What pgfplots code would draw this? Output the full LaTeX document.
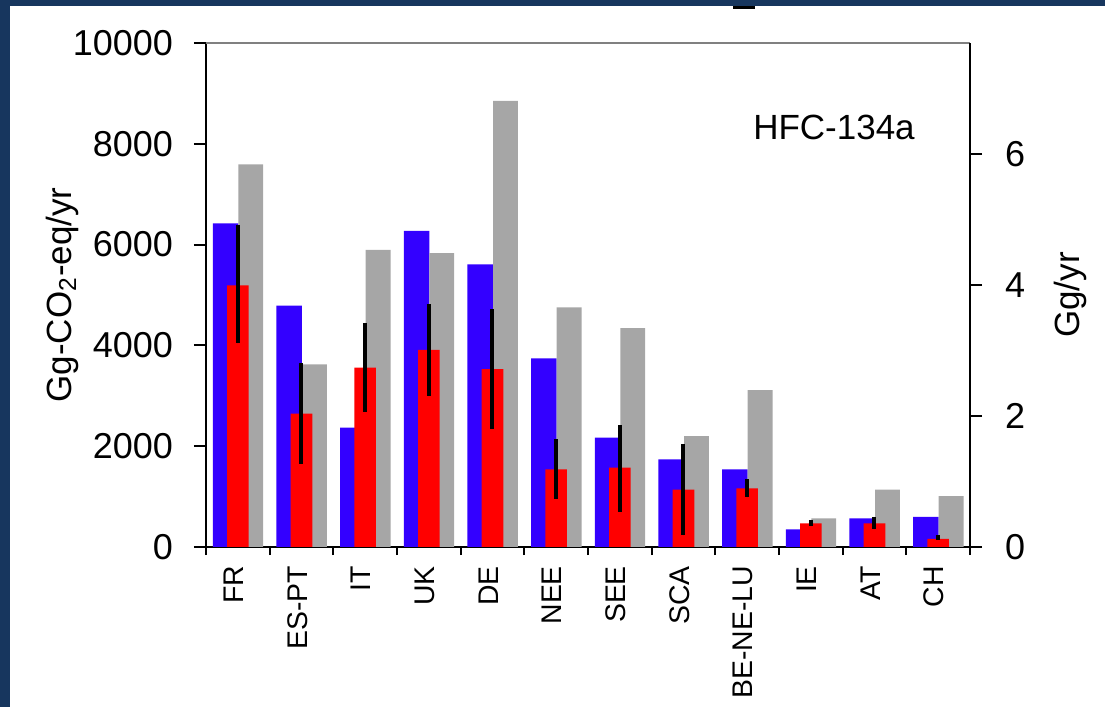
\documentclass[border=0pt]{standalone}
\usepackage{fontspec}
\setmainfont{Liberation Sans}
\usepackage{pgfplots}
\pgfplotsset{compat=1.18}

\definecolor{frameNavy}{RGB}{23,54,94}
\definecolor{barBlue}{RGB}{51,0,255}
\definecolor{barRed}{RGB}{255,0,0}
\definecolor{barGray}{RGB}{166,166,166}

\begin{document}
\begin{tikzpicture}
\begin{axis}[
    at={(0,0)}, anchor=south west,
    scale only axis,
    width=382pt, height=252pt,
    xmin=-0.5, xmax=11.5,
    ymin=0, ymax=10000,
    axis x line*=bottom,
    axis y line*=left,
    axis line style={black, line width=1pt},
    tick align=outside,
    major tick length=6pt,
    minor tick length=4pt,
    xtick={0,...,11},
    xticklabels={FR,ES-PT,IT,UK,DE,NEE,SEE,SCA,BE-NE-LU,IE,AT,CH},
    major x tick style={draw=none},
    minor xtick={-0.5,0.5,...,11.5},
    minor x tick style={black, line width=1pt},
    x tick label style={rotate=90, anchor=east, font=\fontsize{14.2}{16}\selectfont, yshift=2pt},
    ytick={0,2000,4000,6000,8000,10000},
    scaled y ticks=false,
    y tick label style={/pgf/number format/1000 sep={}, /pgf/number format/assume math mode=true, font=\fontsize{18}{20}\selectfont, xshift=-7pt},
    ytick style={black, line width=1pt},
    ylabel={Gg-CO\textsubscript{2}-eq/yr},
    ylabel style={at={(axis description cs:-0.1885,0.5)}, anchor=center, font=\fontsize{17.5}{20}\selectfont},
    clip=false,
]
% modelled (blue), inventory (gray), inversion (red)
\addplot[ybar, bar width=0.40, bar shift=-0.193, fill=barBlue, draw=none] coordinates {
    (0,6420) (1,4790) (2,2370) (3,6270) (4,5610) (5,3745)
    (6,2170) (7,1740) (8,1540) (9,350) (10,570) (11,600)
};
\addplot[ybar, bar width=0.39, bar shift=0.204, fill=barGray, draw=none] coordinates {
    (0,7590) (1,3625) (2,5895) (3,5830) (4,8850) (5,4755)
    (6,4345) (7,2200) (8,3115) (9,570) (10,1140) (11,1010)
};
\addplot[ybar, bar width=0.34, bar shift=0, fill=barRed, draw=none,
    error bars/.cd, y dir=both, y explicit,
    error mark=none, error bar style={black, line width=2pt}] coordinates {
    (0,5190) += (0,1200) -= (0,1150)
    (1,2645) += (0,1000) -= (0,1000)
    (2,3560) += (0,880) -= (0,875)
    (3,3910) += (0,905) -= (0,915)
    (4,3530) += (0,1185) -= (0,1180)
    (5,1540) += (0,595) -= (0,580)
    (6,1575) += (0,845) -= (0,875)
    (7,1140) += (0,905) -= (0,910)
    (8,1165) += (0,185) -= (0,180)
    (9,470) += (0,65) -= (0,55)
    (10,470) += (0,130) -= (0,120)
    (11,160) += (0,70) -= (0,20)
};
\draw[gray, line width=1.2pt] (rel axis cs:0,1) -- (rel axis cs:1,1);
\node[font=\fontsize{17.5}{20}\selectfont] at (rel axis cs:0.822,0.833) {HFC-134a};
\end{axis}
\begin{axis}[
    at={(0,0)}, anchor=south west,
    scale only axis,
    width=382pt, height=252pt,
    xmin=-0.5, xmax=11.5,
    ymin=0, ymax=7.6923,
    axis x line=none,
    axis y line*=right,
    axis line style={black, line width=1pt},
    tick align=outside,
    major tick length=6pt,
    ytick={0,2,4,6},
    ytick style={black, line width=1pt},
    y tick label style={/pgf/number format/assume math mode=true, font=\fontsize{18}{20}\selectfont, xshift=8pt},
    ylabel={Gg/yr},
    ylabel style={at={(axis description cs:1.132,0.5)}, anchor=center, rotate=0, font=\fontsize{17.5}{20}\selectfont},
]
\end{axis}
% slide frame
\fill[frameNavy] (-103pt,-80pt) rectangle (-98pt,273.5pt);
\fill[frameNavy] (-103pt,270.5pt) rectangle (449.5pt,273.5pt);
\fill[black] (263.5pt,270.5pt) rectangle (274.5pt,269pt);
\pgfresetboundingbox
\path (-103pt,-80pt) rectangle (449.5pt,273.5pt);
\end{tikzpicture}
\end{document}
